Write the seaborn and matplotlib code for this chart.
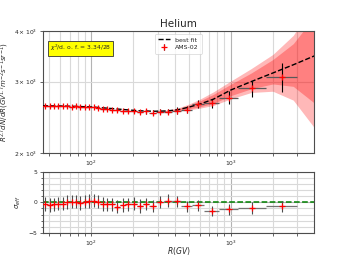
import numpy as np
import pandas as pd
import matplotlib
matplotlib.use("Agg")
import matplotlib.pyplot as plt
import seaborn as sns

# ---- data ----
bin_lo = [45.1, 48.5, 52.2, 56.1, 60.3, 64.8, 69.7, 74.9, 80.5, 86.5, 93.0, 100, 108, 116, 125, 135,
          147, 160, 175, 192, 211, 233, 259, 291, 330, 379, 441, 525, 643, 822, 1130, 1800]
bin_hi = [48.5, 52.2, 56.1, 60.3, 64.8, 69.7, 74.9, 80.5, 86.5, 93.0, 100, 108, 116, 125, 135, 147,
          160, 175, 192, 211, 233, 259, 291, 330, 379, 441, 525, 643, 822, 1130, 1800, 3000]
flux = [2615, 2612, 2610, 2608, 2610, 2605, 2603, 2606, 2598, 2600, 2598, 2597, 2585, 2572, 2565, 2560,
        2550, 2545, 2540, 2538, 2522, 2532, 2515, 2528, 2530, 2545, 2560, 2635, 2650, 2740, 2885, 3085]
flux_err = [20, 20, 20, 20, 20, 20, 20, 20, 20, 20, 20, 20, 21, 21, 22, 22,
            23, 24, 25, 26, 28, 30, 32, 35, 40, 45, 55, 60, 75, 105, 130, 250]
resid = [-0.28, -0.44, -0.33, -0.2, -0.2, 0.05, 0.1, 0.1, -0.1, 0.1, 0.2, 0.3, 0.1, -0.28, -0.33, -0.33,
         -0.7, -0.44, -0.33, -0.2, -0.6, -0.3, -0.55, 0.0, 0.3, 0.15, -0.6, -0.5, -1.4, -1.15, -0.9, -0.65]
resid_err = [1.1] * 21 + [1.0, 1.0, 1.0, 1.0, 0.95, 0.9, 0.9, 0.8, 0.87, 0.95, 0.95]

fit_R = [45, 60, 80, 100, 130, 170, 220, 280, 350, 420, 500, 600, 750, 1000, 1400, 2000, 2800, 4000]
fit_F = [2615, 2612, 2605, 2598, 2580, 2560, 2542, 2535, 2540, 2558, 2595, 2640, 2715, 2860, 3000,
         3150, 3300, 3475]

band_R = [280, 350, 420, 500, 600, 750, 1000, 1400, 2000, 2800, 4000]
outer_up = [2537, 2552, 2585, 2640, 2715, 2830, 3010, 3230, 3500, 3900, 4700]
inner_up = [2536, 2548, 2575, 2622, 2688, 2790, 2955, 3150, 3400, 3720, 4350]
inner_lo = [2534, 2534, 2543, 2572, 2600, 2650, 2770, 2880, 2960, 2920, 2650]
outer_lo = [2533, 2529, 2533, 2555, 2580, 2620, 2720, 2820, 2840, 2700, 2300]

chi2_text = r"$\chi^2$/d. o. f. = 3.34/28"

# ---- derived ----
lo = np.array(bin_lo); hi = np.array(bin_hi)
R = np.sqrt(lo * hi)
xerr = np.vstack([R - lo, hi - R])
df_fit = pd.DataFrame({"R": fit_R, "F": fit_F})

sns.set_style("white")
plt.rcParams["font.family"] = ["DejaVu Sans"]

fig = plt.figure(figsize=(3.49, 2.62), dpi=100)
ax1 = fig.add_axes([0.123, 0.416, 0.777, 0.466])
ax2 = fig.add_axes([0.123, 0.111, 0.777, 0.233])

for ax in (ax1, ax2):
    ax.set_xscale("log")
    ax.set_xlim(45, 3950)
    ax.grid(True, which="major", color="0.7", linewidth=0.8)
    ax.grid(True, which="minor", color="0.85", linewidth=0.8)
    for s in ax.spines.values():
        s.set_color("0.3")
        s.set_linewidth(0.8)
    ax.tick_params(which="both", labelsize=4.3, length=2, width=0.5, direction="out",
                   bottom=True, left=True, pad=2)
    ax.set_axisbelow(True)

# top panel
ax1.set_yscale("log")
ax1.set_ylim(2000, 4000)
ax1.fill_between(band_R, outer_lo, outer_up, color="red", alpha=0.28, linewidth=0, zorder=1)
ax1.fill_between(band_R, inner_lo, inner_up, color="red", alpha=0.3, linewidth=0, zorder=1)
sns.lineplot(data=df_fit, x="R", y="F", ax=ax1, color="black", linestyle="--",
             linewidth=1.0, label="best fit", zorder=4)
ax1.errorbar(R, flux, xerr=xerr, fmt="none", ecolor="0.35", elinewidth=0.9, zorder=3)
ax1.errorbar(R, flux, yerr=flux_err, fmt="+", color="red", ecolor="black", elinewidth=0.8,
             markersize=4, markeredgewidth=0.9, label="AMS-02", zorder=5)
ax1.set_xlabel("")
ax1.set_ylabel(r"$R^{2.7}dN/dR(GV^{1.7}m^{-2}s^{-1}sr^{-1})$", fontsize=5)
ax1.yaxis.set_label_coords(-0.118, 0.5)
ax1.set_title("Helium", fontsize=7.5, pad=3)
leg = ax1.legend(loc="upper center", fontsize=4.5, frameon=True, handlelength=2.0,
                 borderpad=0.5, labelspacing=0.4)
leg.get_frame().set_linewidth(0.5)
ax1.text(0.025, 0.9, chi2_text, transform=ax1.transAxes, fontsize=4.3, va="top", ha="left",
         bbox=dict(boxstyle="square,pad=0.35", facecolor="yellow", edgecolor="0.2", linewidth=0.6),
         zorder=6)

# bottom panel
ax2.set_ylim(-5, 5)
ax2.set_yticks([-5, 0, 5])
ax2.set_yticks(np.arange(-5, 6, 1), minor=True)
ax2.tick_params(axis="y", which="minor", length=1.2)
ax2.axhline(0, color="green", linestyle="--", linewidth=1.1, zorder=2)
ax2.errorbar(R, resid, xerr=xerr, fmt="none", ecolor="0.45", elinewidth=0.9, zorder=3)
ax2.errorbar(R, resid, yerr=resid_err, fmt="+", color="red", ecolor="0.3", elinewidth=0.8,
             markersize=4, markeredgewidth=0.9, zorder=4)
ax2.set_ylabel(r"$\sigma_{eff}$", fontsize=5)
ax2.set_xlabel(r"$R(GV)$", fontsize=5.5)
ax2.xaxis.set_label_coords(0.5, -0.19)

fig.savefig("out.png", dpi=100)
